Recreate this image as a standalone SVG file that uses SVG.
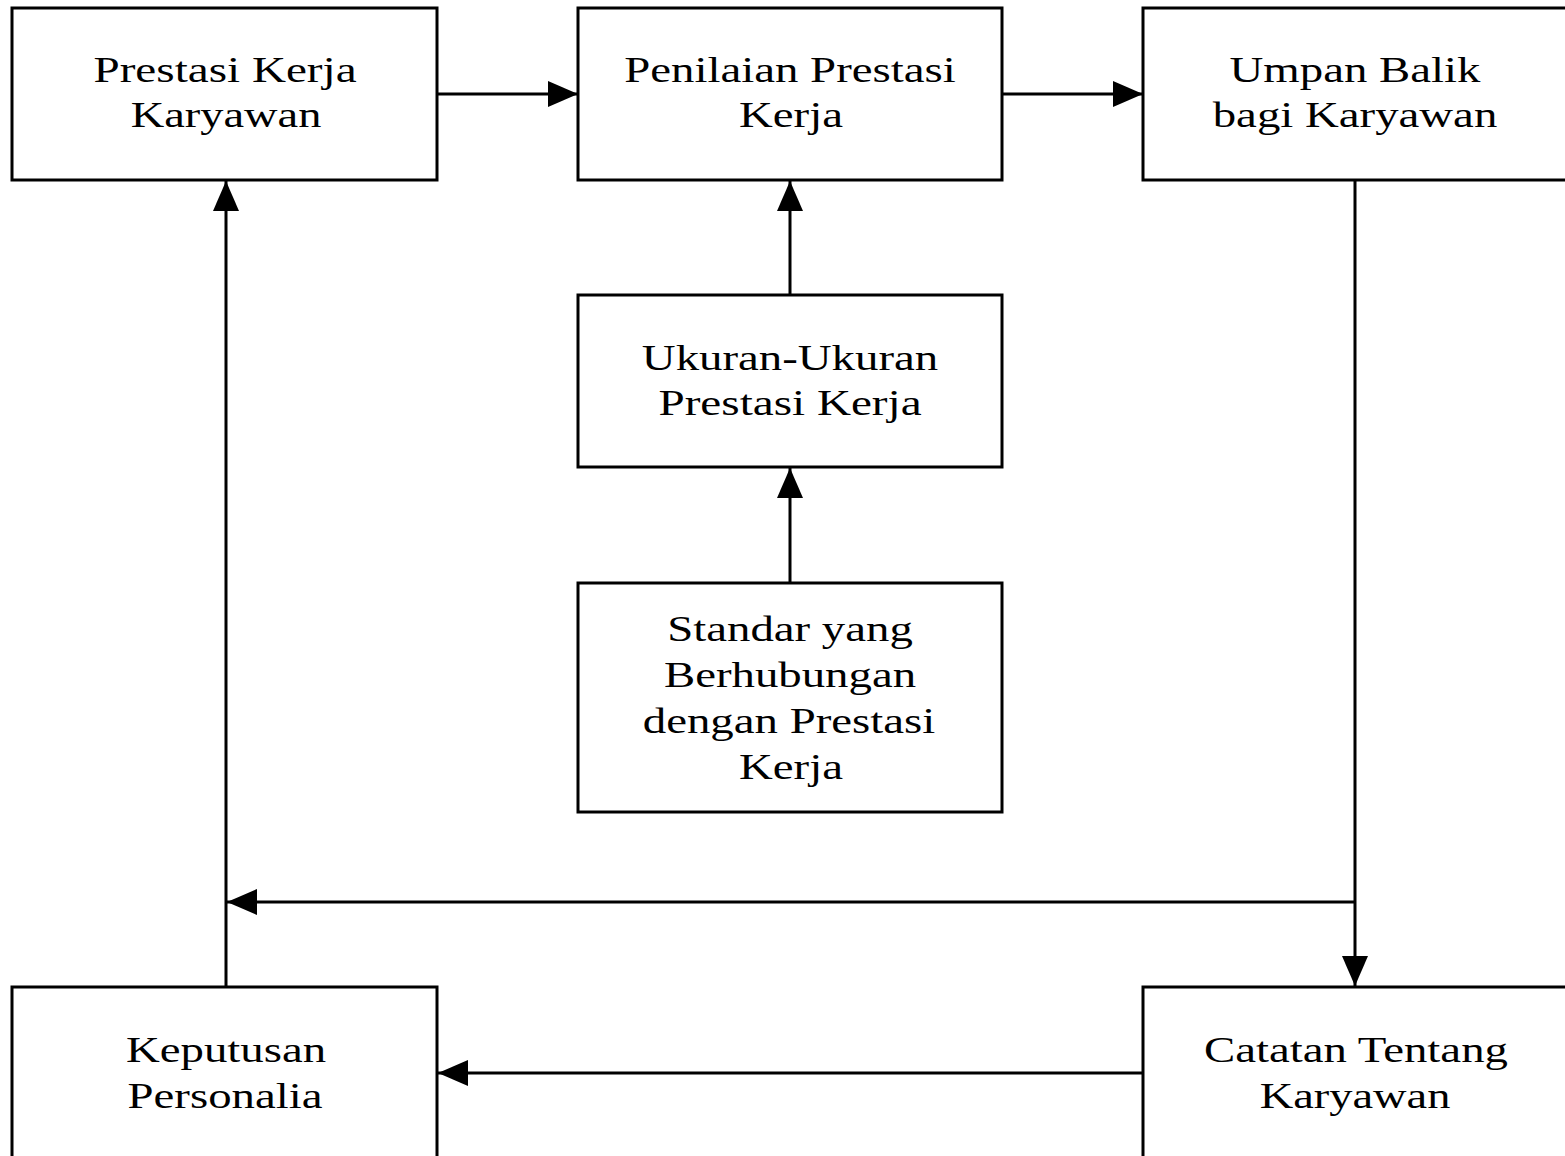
<svg xmlns="http://www.w3.org/2000/svg" width="1565" height="1156" viewBox="0 0 1565 1156">
<defs>
<style>
.box{fill:#fff;stroke:#000;stroke-width:3}
.t{font-family:"Liberation Serif","Times New Roman",serif;font-size:36px;fill:#000;text-anchor:middle}
.c{stroke:#000;stroke-width:3;fill:none}
</style>
<marker id="ah" viewBox="0 0 30 26" refX="30" refY="13" markerWidth="30" markerHeight="26" markerUnits="userSpaceOnUse" orient="auto">
<path d="M0,0 L30,13 L0,26 Z" fill="#000"/>
</marker>
</defs>
<rect width="1565" height="1156" fill="#fff"/>
<g id="connectors">
<line class="c" x1="437" y1="94" x2="578" y2="94" marker-end="url(#ah)"/>
<line class="c" x1="1002" y1="94" x2="1143" y2="94" marker-end="url(#ah)"/>
<line class="c" x1="790" y1="295" x2="790" y2="181" marker-end="url(#ah)"/>
<line class="c" x1="790" y1="583" x2="790" y2="468" marker-end="url(#ah)"/>
<line class="c" x1="1355" y1="180" x2="1355" y2="986" marker-end="url(#ah)"/>
<line class="c" x1="1356" y1="902" x2="227" y2="902" marker-end="url(#ah)"/>
<line class="c" x1="226" y1="987" x2="226" y2="181" marker-end="url(#ah)"/>
<line class="c" x1="1143" y1="1073" x2="438" y2="1073" marker-end="url(#ah)"/>
</g>
<g id="prestasi">
<rect class="box" x="12" y="8" width="425" height="172"/>
<text class="t" transform="translate(225,82) scale(1.31,1)">Prestasi Kerja</text>
<text class="t" transform="translate(226,127) scale(1.29,1)">Karyawan</text>
</g>
<g id="penilaian">
<rect class="box" x="578" y="8" width="424" height="172"/>
<text class="t" transform="translate(790,82) scale(1.30,1)">Penilaian Prestasi</text>
<text class="t" transform="translate(791,127) scale(1.30,1)">Kerja</text>
</g>
<g id="umpan">
<rect class="box" x="1143" y="8" width="500" height="172"/>
<text class="t" transform="translate(1355,82) scale(1.30,1)">Umpan Balik</text>
<text class="t" transform="translate(1355,127) scale(1.30,1)">bagi Karyawan</text>
</g>
<g id="ukuran">
<rect class="box" x="578" y="295" width="424" height="172"/>
<text class="t" transform="translate(790,370) scale(1.30,1)">Ukuran-Ukuran</text>
<text class="t" transform="translate(790,415) scale(1.31,1)">Prestasi Kerja</text>
</g>
<g id="standar">
<rect class="box" x="578" y="583" width="424" height="229"/>
<text class="t" transform="translate(790,641) scale(1.30,1)">Standar yang</text>
<text class="t" transform="translate(790,687) scale(1.30,1)">Berhubungan</text>
<text class="t" transform="translate(789,733) scale(1.30,1)">dengan Prestasi</text>
<text class="t" transform="translate(791,779) scale(1.30,1)">Kerja</text>
</g>
<g id="keputusan">
<rect class="box" x="12" y="987" width="425" height="300"/>
<text class="t" transform="translate(226,1062) scale(1.30,1)">Keputusan</text>
<text class="t" transform="translate(225,1108) scale(1.30,1)">Personalia</text>
</g>
<g id="catatan">
<rect class="box" x="1143" y="987" width="500" height="300"/>
<text class="t" transform="translate(1356,1062) scale(1.30,1)">Catatan Tentang</text>
<text class="t" transform="translate(1355,1108) scale(1.29,1)">Karyawan</text>
</g>
</svg>
